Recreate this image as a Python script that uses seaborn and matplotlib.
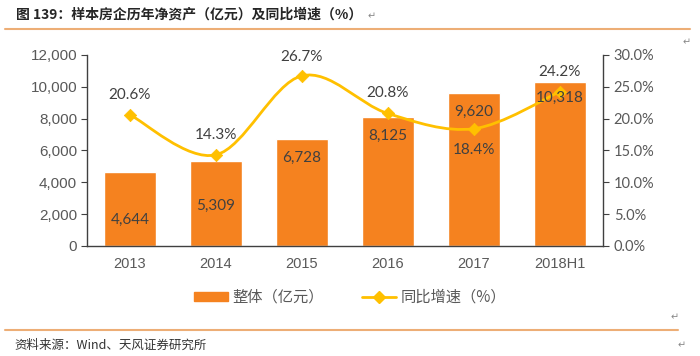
import matplotlib
matplotlib.use("Agg")
import matplotlib.pyplot as plt
import seaborn as sns
import pandas as pd
from matplotlib.path import Path
from matplotlib.patches import PathPatch, Patch
from matplotlib.lines import Line2D
from matplotlib.ticker import FuncFormatter

sns.set_style("white")
plt.rcParams['font.family'] = ['Noto Sans CJK SC', 'DejaVu Sans']

# data
years = ['2013', '2014', '2015', '2016', '2017', '2018H1']
net_assets = [4644, 5309, 6728, 8125, 9620, 10318]
yoy_pct = [20.6, 14.3, 26.7, 20.8, 18.4, 24.2]

# label nudges (pixels), as placed in the original
bar_lbl_dy = [-48, -44, -19, -19, -19, -16]
pct_lbl_dy = [20, 20, 19, 20, -21, 20]

df = pd.DataFrame({'year': years, 'assets': net_assets, 'yoy': yoy_pct})

bar_c = '#F5821F'
line_c = '#FFC000'
txt_c = '#595959'

fig = plt.figure(figsize=(7, 3.56), dpi=100)
ax = fig.add_axes([0.124, 0.309, 0.737, 0.537])

sns.barplot(data=df, x='year', y='assets', color=bar_c, width=0.6,
            saturation=1, ax=ax)
ax.set_ylim(0, 12000)
ax.set_yticks(range(0, 12001, 2000))
ax.yaxis.set_major_formatter(FuncFormatter(lambda v, p: f'{int(v):,}'))
ax.set_xlabel('')
ax.set_ylabel('')
ax.set_xlim(-0.5, 5.5)

ax2 = ax.twinx()
ax2.set_ylim(0, 30)
ax2.set_yticks(range(0, 31, 5))
ax2.yaxis.set_major_formatter(FuncFormatter(lambda v, p: f'{v:.1f}%'))

# smooth line through the points (Excel style)
pts = list(zip(range(len(yoy_pct)), yoy_pct))
verts = [pts[0]]
codes = [Path.MOVETO]
n = len(pts)
for i in range(n - 1):
    p0 = pts[max(i - 1, 0)]
    p1 = pts[i]
    p2 = pts[i + 1]
    p3 = pts[min(i + 2, n - 1)]
    c1 = (p1[0] + (p2[0] - p0[0]) / 6, p1[1] + (p2[1] - p0[1]) / 6)
    c2 = (p2[0] - (p3[0] - p1[0]) / 6, p2[1] - (p3[1] - p1[1]) / 6)
    verts += [c1, c2, p2]
    codes += [Path.CURVE4] * 3
ax2.add_patch(PathPatch(Path(verts, codes), fill=False, edgecolor=line_c,
                        lw=2.0, zorder=3))
sns.scatterplot(x=list(range(n)), y=yoy_pct, marker='D', s=40, color=line_c,
                edgecolor=line_c, ax=ax2, zorder=4)

# bar value labels drawn on top of the line
for i, v in enumerate(net_assets):
    ax2.annotate(f'{v:,}', (i, v), xycoords=ax.transData,
                 xytext=(0, bar_lbl_dy[i]), textcoords='offset pixels',
                 ha='center', va='center', fontsize=11, color='#404040',
                 family='Lato', zorder=6)

for i, v in enumerate(yoy_pct):
    ax2.annotate(f'{v:.1f}%', (i, v), xytext=(0, pct_lbl_dy[i]),
                 textcoords='offset pixels', ha='center', va='center',
                 fontsize=11, color='#404040', family='Lato', zorder=6)

# axes styling
for a in (ax, ax2):
    a.spines['top'].set_visible(False)
    for s in ('left', 'right', 'bottom'):
        a.spines[s].set_color('#404040')
        a.spines[s].set_linewidth(1)
ax.spines['right'].set_visible(False)
ax2.spines['left'].set_visible(False)
ax2.spines['bottom'].set_visible(False)

ax.tick_params(axis='y', direction='out', length=4, color='#404040',
               labelsize=11, labelcolor=txt_c, pad=3)
ax.tick_params(axis='x', length=0, labelsize=10.5, labelcolor=txt_c, pad=8)
ax2.tick_params(axis='y', direction='out', length=4, color='#404040',
                labelsize=10.5, labelcolor=txt_c, pad=4)
for t in ax.get_yticklabels() + ax.get_xticklabels():
    t.set_family('Liberation Sans')
for t in ax2.get_yticklabels():
    t.set_family('Lato')

# tick marks between categories on x axis
ax.set_xticks([x + 0.5 for x in range(-1, 6)], minor=True)
ax.tick_params(axis='x', which='minor', direction='out', length=4,
               color='#404040')

handles = [Patch(facecolor=bar_c, edgecolor=bar_c),
           Line2D([], [], color=line_c, lw=2.0, marker='D', markersize=6)]
fig.legend(handles, ['整体（亿元）', '同比增速（%）'], loc='center',
           bbox_to_anchor=(0.5, 0.165), ncol=2, frameon=False,
           fontsize=11, labelcolor=txt_c, handlelength=2.2,
           handleheight=0.6, columnspacing=2.5, handletextpad=0.3)

# title, rules and source
fig.text(0.023, 0.96, '图 139：样本房企历年净资产（亿元）及同比增速（%）',
         fontsize=10, fontweight='bold', color='#262626', va='center')
fig.text(0.525, 0.955, '↵', fontsize=7, color='#888888', va='center',
         family=['DejaVu Sans'])
fig.add_artist(Line2D([0.007, 0.985], [0.918, 0.918], color='#EDAE76',
                      lw=1.5, transform=fig.transFigure))
fig.add_artist(Line2D([0.007, 0.968], [0.073, 0.073], color='#EDAE76',
                      lw=1.5, transform=fig.transFigure))
fig.text(0.021, 0.03, '资料来源：Wind、天风证券研究所', fontsize=9,
         color='#333333', va='center')
for (x, y) in [(0.975, 0.88), (0.958, 0.11), (0.968, 0.03)]:
    fig.text(x, y, '↵', fontsize=7, color='#888888', va='center',
             family=['DejaVu Sans'])

fig.savefig('out.png', dpi=100)
